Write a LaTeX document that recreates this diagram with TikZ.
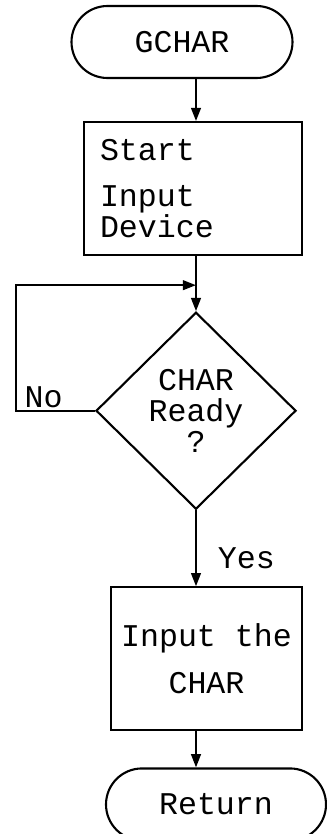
\documentclass[tikz,border=0pt]{standalone}
\usepackage{fontspec}
\newfontfamily\flowfont{Liberation Mono}
\usetikzlibrary{shapes.geometric,arrows.meta,positioning}
\tikzset{
  terminal/.style={rectangle,draw,rounded corners=0.72cm,minimum width=4.42cm,
                   minimum height=1.44cm,align=center,font=\flowfont\fontsize{18}{18}\selectfont},
  process/.style ={rectangle,draw,minimum height=2.66cm,
                   align=left,font=\flowfont\fontsize{18}{18}\selectfont},
  decision/.style={diamond,draw,minimum width=4cm,minimum height=3.94cm,
                   inner sep=0pt,align=center,font=\flowfont\fontsize{18}{17.5}\selectfont},
  lbl/.style     ={font=\flowfont\fontsize{18}{18}\selectfont},
  arr/.style     ={-{Triangle[length=7.5pt,width=5.5pt]},line width=1.2pt}
}
\begin{document}
\begin{tikzpicture}[line width=1.2pt]
  \useasboundingbox (0,0) rectangle (6.52,-16.68);
  % Nodes
  \node (gchar)  [terminal] at (3.64,-0.84) {GCHAR};
  \node (start)  [process, text width=3.72cm, inner xsep=0.32cm,
                  below=0.84cm of gchar, xshift=0.22cm] {Start\\[8pt]Input\\Device};
  \node (ready)  [decision, below=1.1cm of start, xshift=0.06cm] {CHAR\\Ready\\?};
  \node (getchr) [process, align=center, minimum width=3.82cm, minimum height=2.86cm,
                  below=1.52cm of ready, xshift=0.21cm] {Input the\\[9pt]CHAR};
  \node (return) [terminal, minimum width=4.4cm, below=0.72cm of getchr, xshift=0.19cm] {Return};
  \coordinate [above=0.52cm of ready.north] (merge);
  \coordinate [left=1.58cm of ready.west] (back);

  % Arrows
  \draw [arr] (gchar.south -| ready) -- (start.north -| ready);
  \draw [arr] (start.south -| ready) -- (ready.north);
  \draw [arr] (ready.west) -- node[lbl, above, pos=0.65, inner sep=1pt] {No} (back) |- (merge);
  \draw [arr] (ready.south) -- node[lbl, right=0.3cm, pos=0.63] {Yes} (getchr.north -| ready);
  \draw [arr] (getchr.south -| ready) -- (return.north -| ready);
\end{tikzpicture}
\end{document}
